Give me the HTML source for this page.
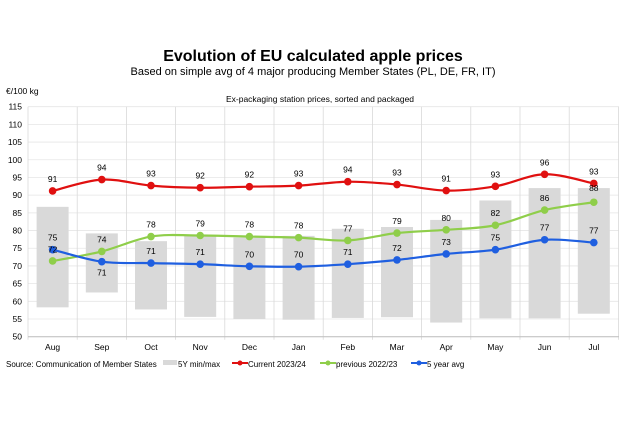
<!DOCTYPE html>
<html><head><meta charset="utf-8"><style>
body{margin:0;background:#fff;width:626px;height:417px;overflow:hidden;font-family:"Liberation Sans",Arial,sans-serif}
svg text{font-family:"Liberation Sans",Arial,sans-serif}
</style></head><body>
<svg id="s" width="626" height="417" viewBox="0 0 626 417" xmlns="http://www.w3.org/2000/svg">
<text x="313" y="61" text-anchor="middle" font-size="16" font-weight="bold" fill="#000">Evolution of EU calculated apple prices</text>
<text x="313" y="75" text-anchor="middle" font-size="11" fill="#000">Based on simple avg of 4 major producing Member States (PL, DE, FR, IT)</text>
<text x="320" y="102" text-anchor="middle" font-size="8.5" fill="#000">Ex-packaging station prices, sorted and packaged</text>
<text x="6" y="94" font-size="8.5" fill="#000">€/100 kg</text>
<g id="g"></g>
<text x="6" y="367" font-size="8" fill="#000">Source: Communication of Member States</text>
<rect x="163" y="360" width="14" height="5" fill="#d9d9d9"/><text x="178" y="367" font-size="8">5Y min/max</text>
<line x1="232" y1="363" x2="248" y2="363" stroke="#e01010" stroke-width="2"/><circle cx="240" cy="363" r="2.5" fill="#e01010"/><text x="248" y="367" font-size="8">Current 2023/24</text>
<line x1="320" y1="363" x2="336" y2="363" stroke="#8fce4a" stroke-width="2"/><circle cx="328" cy="363" r="2.5" fill="#8fce4a"/><text x="336" y="367" font-size="8">previous 2022/23</text>
<line x1="411" y1="363" x2="427" y2="363" stroke="#1f5fe0" stroke-width="2"/><circle cx="419" cy="363" r="2.5" fill="#1f5fe0"/><text x="427" y="367" font-size="8">5 year avg</text>
</svg>
<script>
const g=document.getElementById('g');let h='';
const y0=336.7,k=230/65,Y=v=>y0-(v-50)*k,L=28,W=49.2,X=i=>L+W*(i+0.5);
for(let v=50;v<=115;v+=5){h+=`<line x1="${L}" x2="619" y1="${Y(v)}" y2="${Y(v)}" stroke="#e6e6e6" stroke-width="0.8"/>`;
h+=`<text x="22" y="${Y(v)+3}" text-anchor="end" font-size="8.5">${v}</text>`;}
for(let i=0;i<=12;i++)h+=`<line x1="${L+W*i}" x2="${L+W*i}" y1="${Y(115)}" y2="${Y(50)+3}" stroke="#d9d9d9" stroke-width="0.8"/>`;
h+=`<line x1="${L}" x2="619" y1="${Y(50)}" y2="${Y(50)}" stroke="#bfbfbf"/>`;
const m=['Aug','Sep','Oct','Nov','Dec','Jan','Feb','Mar','Apr','May','Jun','Jul'];
const bars=[[58.3,86.7],[62.5,79.2],[57.7,77],[55.6,78.5],[55,78],[54.8,78.5],[55.3,80.5],[55.5,81],[54,83],[55.2,88.5],[55.2,92],[56.5,92]];
bars.forEach((b,i)=>{h+=`<rect x="${X(i)-16}" width="32" y="${Y(b[1])}" height="${Y(b[0])-Y(b[1])}" fill="#d9d9d9"/>`;
h+=`<text x="${X(i)}" y="350" text-anchor="middle" font-size="8.5">${m[i]}</text>`;});
function curve(d,c){let p=d.map((v,i)=>[X(i),Y(v)]);let s=`M${p[0]}`;
for(let i=0;i<p.length-1;i++){const a=p[i-1]||p[i],b=p[i],c2=p[i+1],e=p[i+2]||c2;
s+=` C${b[0]+(c2[0]-a[0])/6},${b[1]+(c2[1]-a[1])/6} ${c2[0]-(e[0]-b[0])/6},${c2[1]-(e[1]-b[1])/6} ${c2[0]},${c2[1]}`;}
h+=`<path d="${s}" fill="none" stroke="${c}" stroke-width="2.2"/>`;p.forEach(q=>h+=`<circle cx="${q[0]}" cy="${q[1]}" r="3.8" fill="${c}"/>`);}
const red=[91.2,94.4,92.7,92.1,92.4,92.7,93.8,93.0,91.3,92.5,95.9,93.3],rl=[91,94,93,92,92,93,94,93,91,93,96,93];
const grn=[71.4,74.1,78.3,78.6,78.3,78.0,77.2,79.3,80.2,81.5,85.8,88.0],gl=[72,74,78,79,78,78,77,79,80,82,86,88];
const blu=[74.6,71.2,70.8,70.5,69.9,69.8,70.5,71.7,73.4,74.6,77.4,76.6],bl=[75,71,71,71,70,70,71,72,73,75,77,77];
curve(red,'#e01010');curve(grn,'#8fce4a');curve(blu,'#1f5fe0');
const lab=(v,t,i,dy)=>h+=`<text x="${X(i)}" y="${Y(v)+dy}" text-anchor="middle" font-size="8.5">${t}</text>`;
rl.forEach((t,i)=>lab(red[i],t,i,-9));
gl.forEach((t,i)=>{if(i==0)lab(74.6,t,0,3);else if(i==11)lab(grn[i],t,i,-11);else lab(grn[i],t,i,-9)});
bl.forEach((t,i)=>{if(i==0)lab(78,t,0,3);else if(i==1)lab(blu[i],t,i,14);else if(i==11)lab(blu[i],t,i,-9);else lab(blu[i],t,i,-9)});
g.innerHTML=h;
</script>
</body></html>
